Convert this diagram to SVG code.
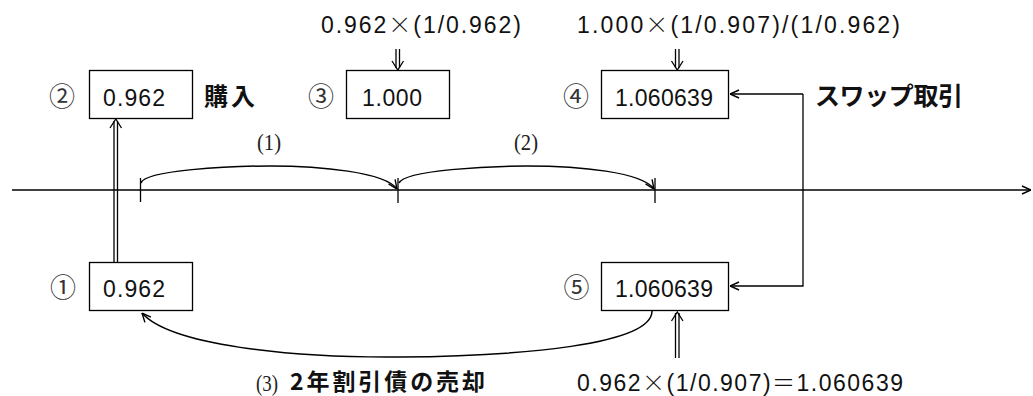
<svg xmlns="http://www.w3.org/2000/svg" width="1033" height="396" viewBox="0 0 1033 396">
<style>
.box{fill:#fff;stroke:#000;stroke-width:1.3}
.ln{fill:none;stroke:#000;stroke-width:1.3}
.arc{fill:none;stroke:#000;stroke-width:1.5}
.val{font-family:"Liberation Sans",Arial,sans-serif;font-size:23px;fill:#111}
.cj{font-family:"Noto Sans CJK JP",sans-serif;font-weight:300}
.num{font-family:"Noto Sans CJK JP",sans-serif;font-size:26px;fill:#333;text-anchor:middle}
.par{font-family:"Liberation Serif","Times New Roman",serif;font-size:24px;fill:#222}
.bold{font-family:"Noto Sans CJK JP",sans-serif;font-weight:bold;fill:#111}
</style>
<defs>
<marker id="ah" viewBox="0 0 10 10" refX="10" refY="5" markerWidth="10" markerHeight="10" markerUnits="userSpaceOnUse" orient="auto">
<path d="M1,1 L10,5 L1,9" fill="none" stroke="#000" stroke-width="1.4"/>
</marker>
</defs>

<g id="axis">
<line class="ln" x1="12" y1="190" x2="1031" y2="190" marker-end="url(#ah)"/>
<line class="ln" x1="140.5" y1="178" x2="140.5" y2="202"/>
<line class="ln" x1="398" y1="178" x2="398" y2="203"/>
<line class="ln" x1="655" y1="178" x2="655" y2="203"/>
</g>

<g id="connectors">
<path class="arc" d="M141,183 C145,170 230,166 270,166 C320,166 385,172 397,189" marker-end="url(#ah)"/>
<path class="arc" d="M399,183 C405,170 490,166 527,166 C580,166 642,172 654,189" marker-end="url(#ah)"/>
<path class="arc" d="M652,311 C652,345 520,356 400,357 C290,358 170,345 142,313" marker-end="url(#ah)"/>
<path class="ln" d="M803,94 L730,94" marker-end="url(#ah)"/>
<path class="ln" d="M803,94 L803,286 L730,286" marker-end="url(#ah)"/>
<g id="dbl-up-1">
<line class="ln" x1="114" y1="262" x2="114" y2="121"/>
<line class="ln" x1="117.5" y1="262" x2="117.5" y2="121"/>
<polyline class="ln" points="110,128 115.8,119 121.5,128"/>
</g>
<g id="dbl-down-3">
<line class="ln" x1="396" y1="49" x2="396" y2="68"/>
<line class="ln" x1="399.5" y1="49" x2="399.5" y2="68"/>
<polyline class="ln" points="392,61 397.8,70 403.5,61"/>
</g>
<g id="dbl-down-4">
<line class="ln" x1="675.5" y1="49" x2="675.5" y2="68"/>
<line class="ln" x1="679" y1="49" x2="679" y2="68"/>
<polyline class="ln" points="671.5,61 677.3,70 683,61"/>
</g>
<g id="dbl-up-5">
<line class="ln" x1="675.5" y1="358" x2="675.5" y2="313"/>
<line class="ln" x1="679" y1="358" x2="679" y2="313"/>
<polyline class="ln" points="671.5,321 677.3,312 683,321"/>
</g>
</g>

<g id="node2">
<rect class="box" x="89.5" y="70.5" width="103" height="48"/>
<text class="num" x="62" y="106">②</text>
<text class="val" x="103" y="106" textLength="62" lengthAdjust="spacing">0.962</text>
</g>
<g id="label-buy">
<text class="bold" x="204" y="105" font-size="24" textLength="51" lengthAdjust="spacing">購入</text>
</g>
<g id="node3">
<rect class="box" x="346.5" y="70.5" width="103" height="48"/>
<text class="num" x="321" y="106">③</text>
<text class="val" x="362" y="106" textLength="60" lengthAdjust="spacing">1.000</text>
</g>
<g id="node4">
<rect class="box" x="601.5" y="70.5" width="127" height="48"/>
<text class="num" x="576" y="106">④</text>
<text class="val" x="615" y="106" textLength="98" lengthAdjust="spacing">1.060639</text>
</g>
<g id="node1">
<rect class="box" x="89.5" y="262.5" width="103" height="48"/>
<text class="num" x="63" y="297">①</text>
<text class="val" x="103" y="297" textLength="62" lengthAdjust="spacing">0.962</text>
</g>
<g id="node5">
<rect class="box" x="601.5" y="262.5" width="127" height="48"/>
<text class="num" x="576.5" y="297">⑤</text>
<text class="val" x="615" y="297" textLength="98" lengthAdjust="spacing">1.060639</text>
</g>

<g id="labels">
<text class="val" x="321" y="33" textLength="200" lengthAdjust="spacing">0.962<tspan class="cj">×</tspan>(1/0.962)</text>
<text class="val" x="577" y="33" textLength="323" lengthAdjust="spacing">1.000<tspan class="cj">×</tspan>(1/0.907)/(1/0.962)</text>
<text class="val" x="577" y="391" textLength="326" lengthAdjust="spacing">0.962<tspan class="cj">×</tspan>(1/0.907)<tspan class="cj">＝</tspan>1.060639</text>
<text class="bold" x="815" y="105" font-size="25" textLength="148" lengthAdjust="spacing">スワップ取引</text>
<text class="par" x="257" y="150" textLength="24" lengthAdjust="spacingAndGlyphs">(1)</text>
<text class="par" x="514" y="150" textLength="24" lengthAdjust="spacingAndGlyphs">(2)</text>
<text class="par" x="256" y="391" textLength="22" lengthAdjust="spacingAndGlyphs">(3)</text>
<text class="bold" x="290" y="390" font-size="23" textLength="195" lengthAdjust="spacing">2年割引債の売却</text>
</g>
</svg>
